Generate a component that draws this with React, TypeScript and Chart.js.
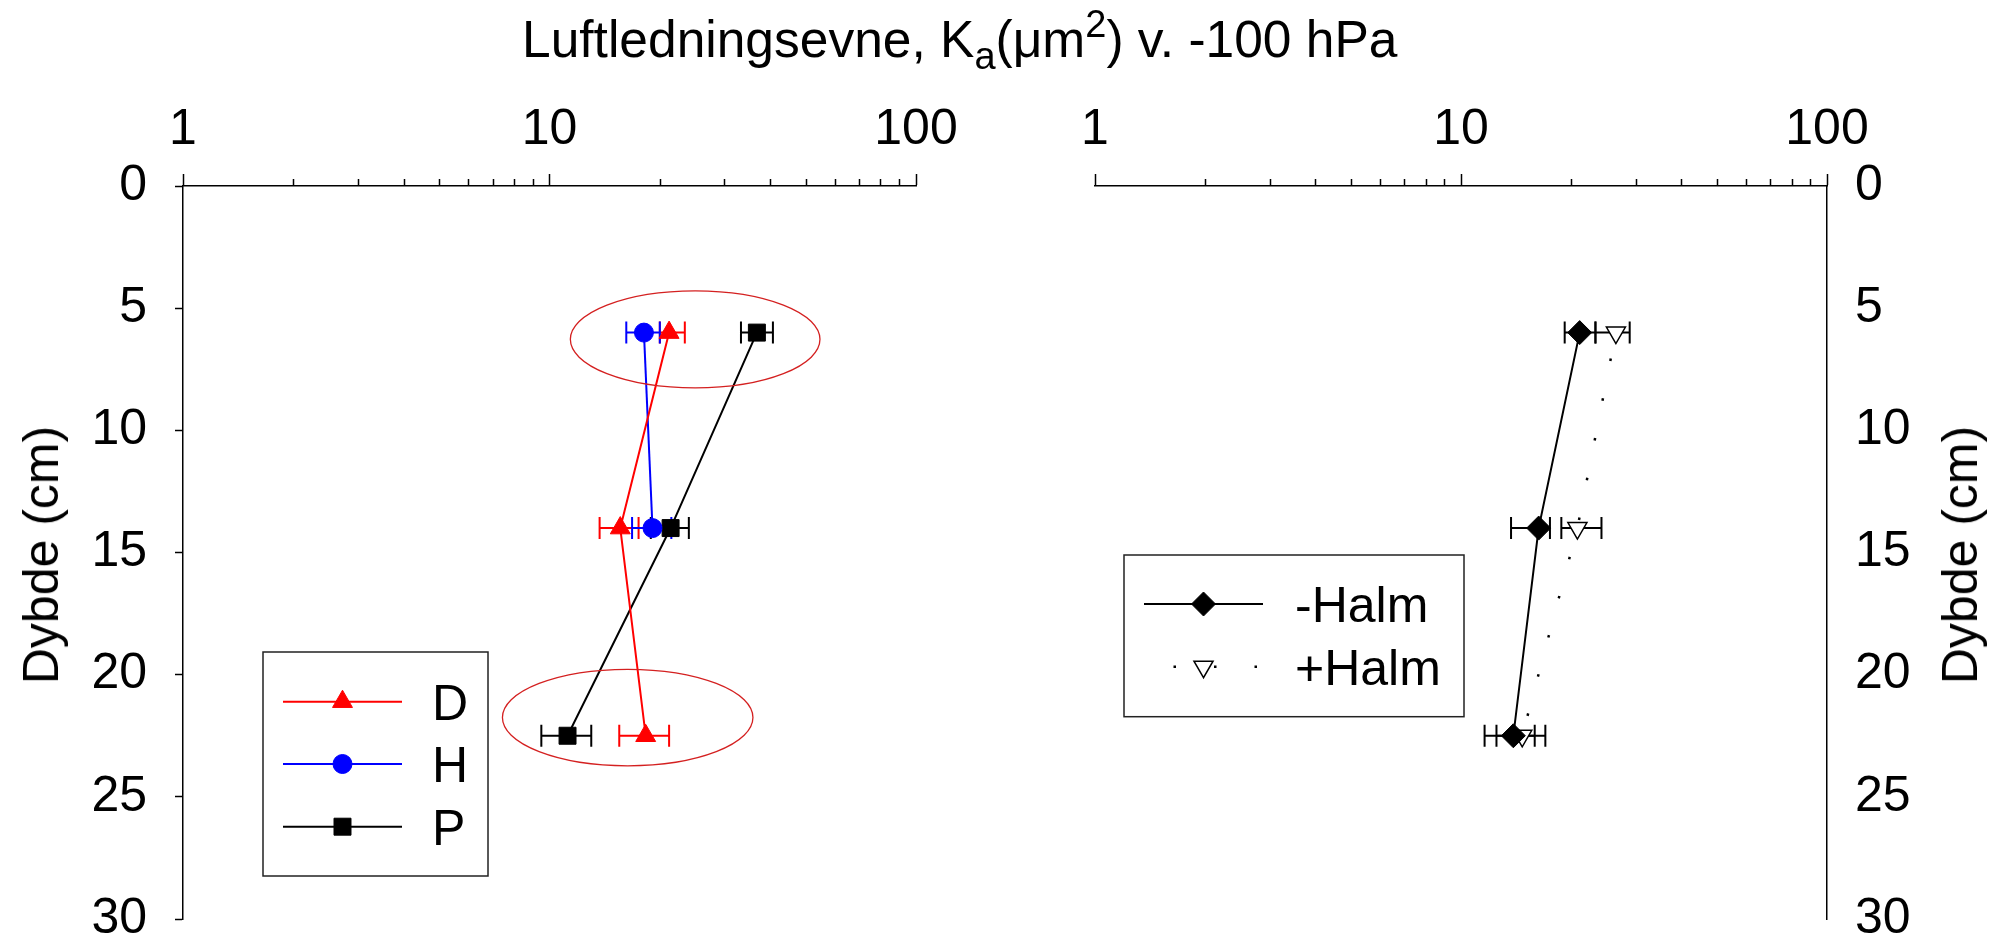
import { useEffect, useRef } from "react";
import { Chart, registerables } from "chart.js";
import { drawPoint } from "chart.js/helpers";

Chart.register(...registerables);

const FONT = "'Liberation Sans', Arial, Helvetica, sans-serif";

/* ================= DATA ================= */

// left panel: D, H, P  (depth in cm, Ka in µm²)
const depthD = [6, 14, 22.5];
const kaD = [21.2, 15.6, 18.3];
const kaDLow = [20.0, 13.7, 15.5];
const kaDHigh = [23.4, 17.5, 21.2];

const depthH = [6, 14];
const kaH = [18.1, 19.1];
const kaHLow = [16.2, 16.8];
const kaHHigh = [20.0, 21.5];

const depthP = [6, 14, 22.5];
const kaP = [36.8, 21.4, 11.2];
const kaPLow = [33.3, 18.9, 9.5];
const kaPHigh = [40.7, 24.0, 13.0];

// right panel: -Halm, +Halm
const depthHalm = [6, 14, 22.5];
const kaMinusHalm = [21.1, 16.3, 13.9];
const kaMinusHalmLow = [19.2, 13.7, 11.6];
const kaMinusHalmHigh = [23.3, 17.5, 15.9];
const kaPlusHalm = [26.5, 20.8, 14.7];
const kaPlusHalmLow = [23.3, 18.8, 12.5];
const kaPlusHalmHigh = [28.9, 24.2, 17.0];

// red ellipses on the left panel (Ka range, depth range)
const ellipseKa = [
  [11.4, 54.7],
  [7.44, 35.9],
];
const ellipseDepth = [
  [4.29, 8.26],
  [19.78, 23.73],
];

// axes
const kaTicks = [1, 2, 3, 4, 5, 6, 7, 8, 9, 10, 20, 30, 40, 50, 60, 70, 80, 90, 100];
const kaMajor = [1, 10, 100];
const depthMin = 0;
const depthMax = 30;
const depthStep = 5;

const pts = (xs: number[], ys: number[]) => xs.map((x, i) => ({ x, y: ys[i] }));

/* ================= PLUGINS ================= */

const errorBars = {
  id: "errorBars",
  beforeDatasetsDraw(chart: any) {
    const { ctx } = chart;
    const xs = chart.scales.x;
    const ys = chart.scales.y;
    chart.data.datasets.forEach((ds: any) => {
      if (!ds.errLow) return;
      ctx.save();
      ctx.strokeStyle = ds.errColor;
      ctx.lineWidth = 2;
      ds.data.forEach((p: any, i: number) => {
        const y = ys.getPixelForValue(p.y);
        const x1 = xs.getPixelForValue(ds.errLow[i]);
        const x2 = xs.getPixelForValue(ds.errHigh[i]);
        ctx.beginPath();
        ctx.moveTo(x1, y);
        ctx.lineTo(x2, y);
        ctx.moveTo(x1, y - 11);
        ctx.lineTo(x1, y + 11);
        ctx.moveTo(x2, y - 11);
        ctx.lineTo(x2, y + 11);
        ctx.stroke();
      });
      ctx.restore();
    });
  },
};

const minorTicks = {
  id: "minorTicks",
  afterDraw(chart: any) {
    const { ctx } = chart;
    const xs = chart.scales.x;
    const y0 = chart.chartArea.top;
    ctx.save();
    ctx.strokeStyle = "#000";
    ctx.lineWidth = 1.5;
    ctx.beginPath();
    kaTicks
      .filter((v) => !kaMajor.includes(v))
      .forEach((v) => {
        const x = Math.round(xs.getPixelForValue(v)) + 0.5;
        ctx.moveTo(x, y0);
        ctx.lineTo(x, y0 - 7);
      });
    ctx.stroke();
    ctx.restore();
  },
};

const ellipses = {
  id: "ellipses",
  afterDatasetsDraw(chart: any) {
    const { ctx } = chart;
    const xs = chart.scales.x;
    const ys = chart.scales.y;
    ctx.save();
    ctx.strokeStyle = "#d42020";
    ctx.lineWidth = 1.3;
    ellipseKa.forEach((r, i) => {
      const xa = xs.getPixelForValue(r[0]);
      const xb = xs.getPixelForValue(r[1]);
      const ya = ys.getPixelForValue(ellipseDepth[i][0]);
      const yb = ys.getPixelForValue(ellipseDepth[i][1]);
      ctx.beginPath();
      ctx.ellipse((xa + xb) / 2, (ya + yb) / 2, Math.abs(xb - xa) / 2, Math.abs(yb - ya) / 2, 0, 0, Math.PI * 2);
      ctx.stroke();
    });
    ctx.restore();
  },
};

type LegendBox = {
  left: number;
  top: number;
  right: number;
  bottom: number;
  rows: number[];
  lineFrom: number;
  lineTo: number;
  textX: number;
};

function boxLegend(box: LegendBox) {
  return {
    id: "boxLegend",
    afterDraw(chart: any) {
      const { ctx } = chart;
      ctx.save();
      ctx.strokeStyle = "#222";
      ctx.lineWidth = 1.5;
      ctx.strokeRect(box.left, box.top, box.right - box.left, box.bottom - box.top);
      chart.data.datasets.forEach((ds: any, i: number) => {
        const y = box.rows[i];
        ctx.save();
        ctx.strokeStyle = ds.borderColor;
        ctx.lineWidth = ds.borderWidth;
        ctx.setLineDash(ds.borderDash || []);
        ctx.lineDashOffset = ds.legendDashOffset || 0;
        ctx.beginPath();
        ctx.moveTo(box.lineFrom, y);
        ctx.lineTo(box.lineTo, y);
        ctx.stroke();
        ctx.restore();

        ctx.fillStyle = ds.pointBackgroundColor;
        ctx.strokeStyle = ds.pointBorderColor;
        ctx.lineWidth = ds.pointBorderWidth;
        drawPoint(
          ctx,
          {
            pointStyle: ds.pointStyle,
            rotation: ds.pointRotation || 0,
            radius: ds.pointRadius,
            borderWidth: ds.pointBorderWidth,
          } as any,
          (box.lineFrom + box.lineTo) / 2,
          y
        );

        ctx.fillStyle = "#000";
        ctx.font = `50px ${FONT}`;
        ctx.textBaseline = "alphabetic";
        ctx.textAlign = "left";
        ctx.fillText(ds.label, box.textX, y + 18);
      });
      ctx.restore();
    },
  };
}

/* ================= CONFIG ================= */

function xAxis() {
  return {
    type: "logarithmic",
    position: "top",
    min: 1,
    max: 100,
    afterBuildTicks: (s: any) => {
      s.ticks = kaTicks.map((v) => ({ value: v, major: kaMajor.includes(v) }));
    },
    afterFit: (s: any) => {
      s.height = 186;
    },
    ticks: {
      autoSkip: false,
      maxRotation: 0,
      padding: 14,
      color: "#000",
      font: { family: FONT, size: 50 },
      callback: (v: any) => (kaMajor.includes(Number(v)) ? String(v) : ""),
    },
    grid: {
      display: true,
      drawOnChartArea: false,
      drawTicks: true,
      tickLength: 12,
      tickWidth: 1.5,
      tickColor: (c: any) => (c.tick && kaMajor.includes(c.tick.value) ? "#000" : "rgba(0,0,0,0)"),
    },
    border: { display: true, color: "#000", width: 1.5 },
  };
}

function yAxis(side: "left" | "right") {
  return {
    type: "linear",
    position: side,
    reverse: true,
    min: depthMin,
    max: depthMax,
    afterFit: (s: any) => {
      s.width = side === "left" ? 183 : 186;
    },
    ticks: {
      stepSize: depthStep,
      padding: 28,
      color: "#000",
      font: { family: FONT, size: 50 },
    },
    grid:
      side === "left"
        ? { display: true, drawOnChartArea: false, drawTicks: true, tickLength: 8, tickWidth: 1.5, tickColor: "#000" }
        : { display: false, drawTicks: false, tickLength: 0 },
    border: { display: true, color: "#000", width: 1.5 },
  };
}

function makeConfig(side: "left" | "right", datasets: any[], extra: any[]) {
  return {
    type: "scatter",
    data: { datasets },
    options: {
      animation: false,
      responsive: false,
      events: [],
      layout: {
        padding:
          side === "left"
            ? { left: 0, top: 0, right: 84, bottom: 20 }
            : { left: 95, top: 0, right: 0, bottom: 20 },
      },
      plugins: { legend: { display: false }, tooltip: { enabled: false } },
      scales: { x: xAxis(), y: yAxis(side) },
    },
    plugins: [errorBars, minorTicks, ...extra],
  } as any;
}

const leftDatasets = () => [
  {
    label: "D",
    data: pts(kaD, depthD),
    errLow: kaDLow,
    errHigh: kaDHigh,
    errColor: "#ff0000",
    showLine: true,
    borderColor: "#ff0000",
    borderWidth: 2,
    pointStyle: "triangle",
    pointRadius: 11.5,
    pointBackgroundColor: "#ff0000",
    pointBorderColor: "#ff0000",
    pointBorderWidth: 1,
  },
  {
    label: "H",
    data: pts(kaH, depthH),
    errLow: kaHLow,
    errHigh: kaHHigh,
    errColor: "#0000ff",
    showLine: true,
    borderColor: "#0000ff",
    borderWidth: 2,
    pointStyle: "circle",
    pointRadius: 9.5,
    pointBackgroundColor: "#0000ff",
    pointBorderColor: "#0000ff",
    pointBorderWidth: 1,
  },
  {
    label: "P",
    data: pts(kaP, depthP),
    errLow: kaPLow,
    errHigh: kaPHigh,
    errColor: "#000",
    showLine: true,
    borderColor: "#000",
    borderWidth: 2,
    pointStyle: "rect",
    pointRadius: 12,
    pointBackgroundColor: "#000",
    pointBorderColor: "#000",
    pointBorderWidth: 1,
  },
];

const rightDatasets = () => [
  {
    label: "-Halm",
    data: pts(kaMinusHalm, depthHalm),
    errLow: kaMinusHalmLow,
    errHigh: kaMinusHalmHigh,
    errColor: "#000",
    showLine: true,
    borderColor: "#000",
    borderWidth: 2,
    pointStyle: "rectRot",
    pointRadius: 12,
    pointBackgroundColor: "#000",
    pointBorderColor: "#000",
    pointBorderWidth: 1,
  },
  {
    label: "+Halm",
    data: pts(kaPlusHalm, depthHalm),
    errLow: kaPlusHalmLow,
    errHigh: kaPlusHalmHigh,
    errColor: "#000",
    showLine: true,
    borderColor: "#000",
    borderWidth: 2.5,
    borderDash: [2.5, 38],
    borderDashOffset: 14,
    legendDashOffset: 11,
    pointStyle: "triangle",
    pointRotation: 180,
    pointRadius: 11,
    pointBackgroundColor: "#fff",
    pointBorderColor: "#000",
    pointBorderWidth: 1.5,
  },
];

/* ================= UI ================= */

// canvases are a bit taller than the page so the plot bottom lands at ~921px
const CANVAS_H = 977;

export default function App() {
  const leftRef = useRef<HTMLCanvasElement>(null);
  const rightRef = useRef<HTMLCanvasElement>(null);

  useEffect(() => {
    if (!leftRef.current || !rightRef.current) return;

    const left = new Chart(
      leftRef.current,
      makeConfig("left", leftDatasets(), [
        ellipses,
        boxLegend({ left: 263, top: 652, right: 488, bottom: 876, rows: [701.7, 764, 826.7], lineFrom: 283, lineTo: 402, textX: 432 }),
      ])
    );
    const right = new Chart(
      rightRef.current,
      makeConfig("right", rightDatasets(), [
        boxLegend({ left: 124, top: 555, right: 464, bottom: 716.7, rows: [604, 666.7], lineFrom: 144, lineTo: 263, textX: 295 }),
      ])
    );

    return () => {
      left.destroy();
      right.destroy();
    };
  }, []);

  const text = {
    position: "absolute" as const,
    fontFamily: FONT,
    fontSize: 50,
    lineHeight: "50px",
    whiteSpace: "nowrap" as const,
    color: "#000",
  };

  return (
    <div style={{ position: "absolute", left: 0, top: 0, width: 2013, height: 941, background: "#fff", overflow: "hidden" }}>
      <canvas ref={leftRef} width={1000} height={CANVAS_H} style={{ position: "absolute", left: 0, top: 0, width: 1000, height: CANVAS_H }} />
      <canvas ref={rightRef} width={1013} height={CANVAS_H} style={{ position: "absolute", left: 1000, top: 0, width: 1013, height: CANVAS_H }} />

      <div style={{ ...text, left: 522, top: 14, fontSize: 51.5 }}>
        Luftledningsevne, K
        <sub style={{ fontSize: 38, lineHeight: 0, verticalAlign: -12 }}>a</sub>
        (μm<sup style={{ fontSize: 38, lineHeight: 0, verticalAlign: 20 }}>2</sup>) v. -100 hPa
      </div>

      <div style={{ ...text, left: 41, top: 555, transform: "translate(-50%, -50%) rotate(-90deg)" }}>Dybde (cm)</div>
      <div style={{ ...text, left: 1960, top: 555, transform: "translate(-50%, -50%) rotate(-90deg)" }}>Dybde (cm)</div>
    </div>
  );
}
